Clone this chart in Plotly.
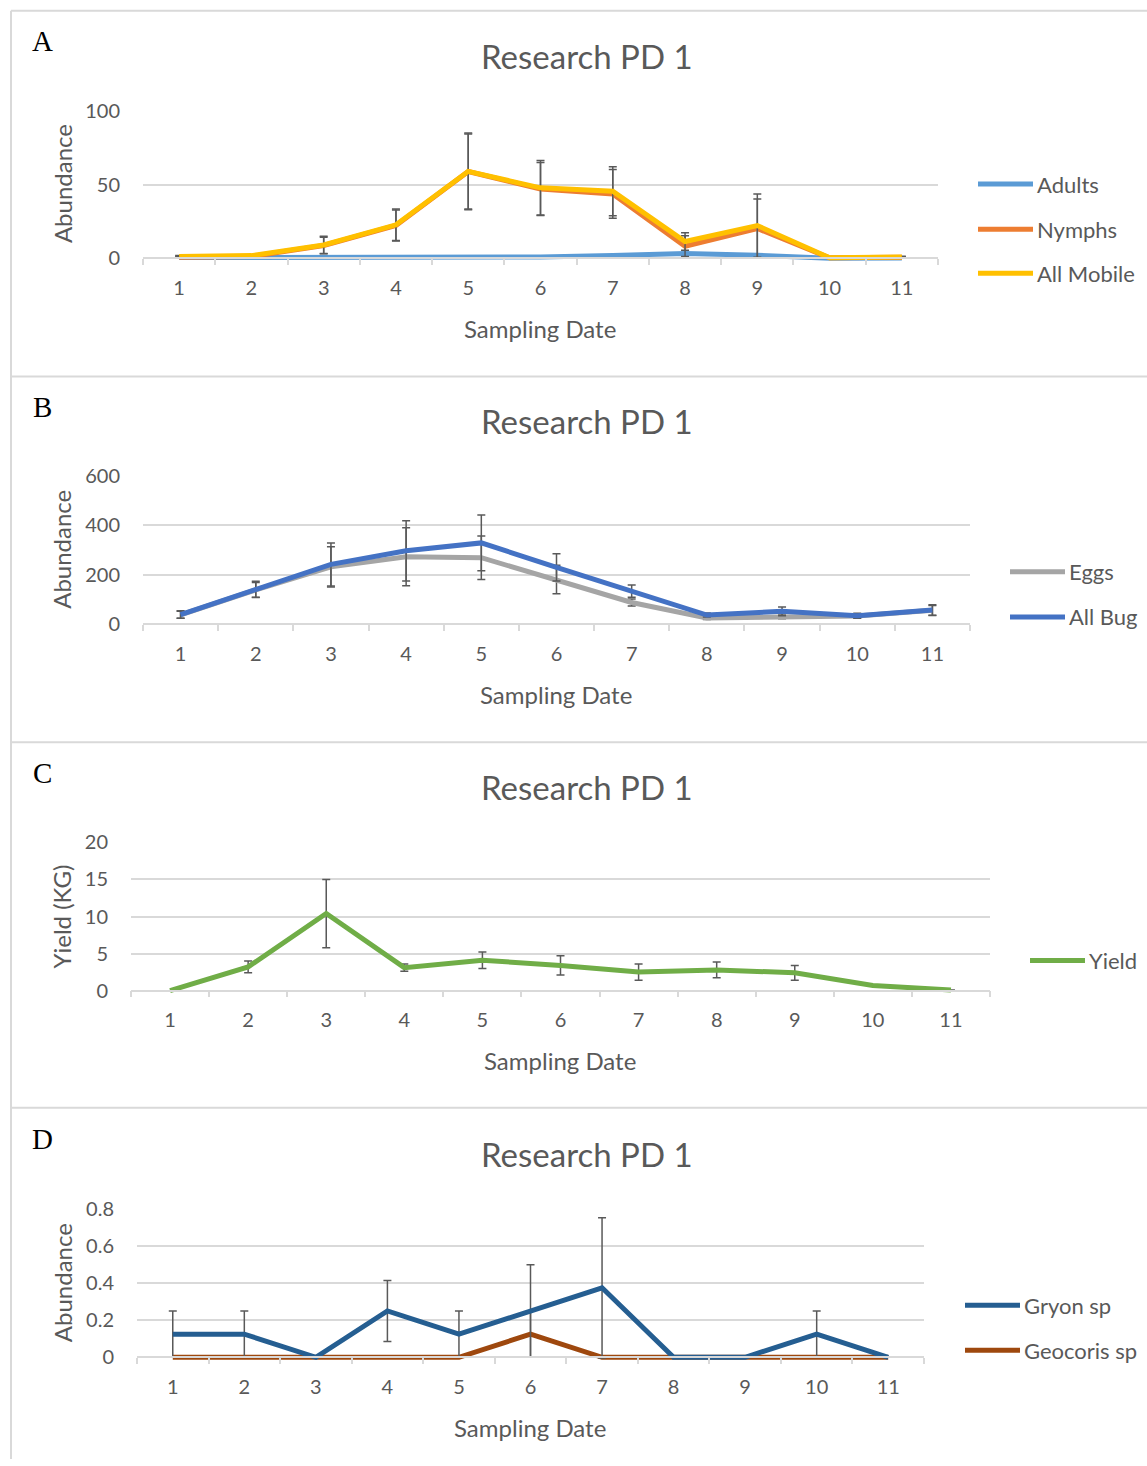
import plotly.graph_objects as go

W, H = 1147, 1466

# ---------------- data ----------------
dates = [1, 2, 3, 4, 5, 6, 7, 8, 9, 10, 11]

# Panel A
adults = [0.5, 0.6, 0.3, 0.4, 0.1, 0.8, 1.8, 3.2, 2.0, 0.0, 0.2]
nymphs = [0.7, 1.2, 8.7, 22.3, 58.9, 47.0, 43.7, 8.2, 20.2, 0.3, 0.6]
nymphs_err = [0.5, 0.5, 5.5, 10.5, 25.5, 18.0, 16.5, 7.0, 20.0, 0.3, 0.5]
all_mobile = [1.2, 1.8, 9.0, 22.7, 59.0, 47.8, 45.5, 11.4, 22.2, 0.3, 0.8]
all_mobile_err = [0.6, 0.6, 6.0, 10.7, 26.0, 18.5, 16.7, 6.0, 21.5, 0.3, 0.6]

# Panel B
eggs = [37, 138, 231, 272, 268, 180, 87, 24, 29, 32, 55]
eggs_err = [14, 30, 81, 117, 88, 58, 14, 6, 8, 8, 20]
all_bug = [38, 140, 241, 296, 328, 229, 133, 36, 51, 33, 56]
all_bug_err = [15, 33, 87, 122, 113, 55, 25, 8, 18, 10, 22]

# Panel C
yield_kg = [0.0, 3.2, 10.4, 3.1, 4.1, 3.4, 2.5, 2.8, 2.4, 0.7, 0.1]
yield_err = [0.0, 0.8, 4.6, 0.5, 1.1, 1.3, 1.1, 1.05, 1.0, 0.0, 0.0]

# Panel D
gryon = [0.125, 0.125, 0.0, 0.25, 0.125, 0.25, 0.375, 0.0, 0.0, 0.125, 0.0]
gryon_err = [0.125, 0.125, 0.0, 0.165, 0.125, 0.25, 0.378, 0.0, 0.0, 0.125, 0.0]
geocoris = [0, 0, 0, 0, 0, 0.125, 0, 0, 0, 0, 0]
geocoris_err = [0, 0, 0, 0, 0, 0.125, 0, 0, 0, 0, 0]

panel_title = "Research PD 1"
x_title = "Sampling Date"

# ---------------- styling ----------------
GRAY = "#595959"
GRID = "#d9d9d9"
FONT = "Lato"

# vertical calibration of the page photograph (measured)
SY, OY = 0.9845, 14.2


def py(y):
    """pixel row (from top) -> paper coordinate"""
    return 1 - ((y - OY) / SY) / H


def px(x):
    return x / W


fig = go.Figure()


def err(arr):
    return dict(type="data", array=arr, visible=True, color=GRAY, thickness=1.5, width=4)


def add(xa, ya, y, color, e=None, name=""):
    fig.add_trace(go.Scatter(
        x=dates, y=y, mode="lines", name=name,
        line=dict(color=color, width=5),
        error_y=err(e) if e is not None else None,
        xaxis=xa, yaxis=ya, showlegend=False))


# Panel A
add("x", "y", adults, "#5B9BD5", name="Adults")
add("x", "y", nymphs, "#ED7D31", nymphs_err, "Nymphs")
add("x", "y", all_mobile, "#FFC000", all_mobile_err, "All Mobile")
# Panel B
add("x2", "y2", eggs, "#A5A5A5", eggs_err, "Eggs")
add("x2", "y2", all_bug, "#4472C4", all_bug_err, "All Bug")
# Panel C
add("x3", "y3", yield_kg, "#70AD47", yield_err, "Yield")
# Panel D
add("x4", "y4", geocoris, "#9E480E", geocoris_err, "Geocoris sp")
add("x4", "y4", gryon, "#255E91", gryon_err, "Gryon sp")

# plot area pixel boxes: (x0, x1, ytop, ybottom, ymax, dtick)
boxes = [
    (143, 938, 112, 259, 100, 50),
    (143, 970, 476, 624, 600, 200),
    (131, 990, 842, 990, 20, 5),
    (137, 924, 1208, 1356, 0.8, 0.2),
]
PAD = 4  # px of room below zero so lines at zero are not clipped

layout = {}
for i, (x0, x1, yt, yb, ymax, dt) in enumerate(boxes):
    sfx = "" if i == 0 else str(i + 1)
    ext = ymax * PAD / (yb - yt)
    layout["xaxis" + sfx] = dict(
        domain=[px(x0), px(x1)], range=[0.5, 11.5], anchor="free", position=py(yb),
        tick0=1, dtick=1, ticks="outside", ticklen=12, tickcolor="rgba(0,0,0,0)",
        minor=dict(tick0=0.5, dtick=1, ticks="outside", ticklen=6, tickcolor=GRID,
                   tickwidth=1.5, showgrid=False),
        showgrid=False, zeroline=False, showline=True, linecolor=GRID, linewidth=1.5,
        tickfont=dict(family=FONT, size=20, color=GRAY), fixedrange=True)
    layout["yaxis" + sfx] = dict(
        domain=[py(yb + PAD), py(yt)], range=[-ext, ymax], anchor="x" + sfx,
        tick0=0, dtick=dt, ticks="outside", ticklen=18, tickcolor="rgba(0,0,0,0)",
        showgrid=True, gridcolor=GRID, gridwidth=1.5, zeroline=False, showline=False,
        tickfont=dict(family=FONT, size=20, color=GRAY), fixedrange=True)

shapes = []
line_style = dict(color=GRID, width=2)
for yy in [12, 377, 742, 1107]:
    shapes.append(dict(type="line", xref="paper", yref="paper",
                       x0=px(11), x1=1.0, y0=py(yy), y1=py(yy), line=line_style))
shapes.append(dict(type="line", xref="paper", yref="paper",
                   x0=px(11), x1=px(11), y0=py(12), y1=0, line=line_style))

annotations = []


def ann(text, x, y, size, color=GRAY, family=FONT, angle=0, xanchor="center"):
    annotations.append(dict(text=text, x=px(x), y=py(y), xref="paper", yref="paper",
                            showarrow=False, font=dict(family=family, size=size, color=color),
                            textangle=angle, xanchor=xanchor, yanchor="middle"))


letters = ["A", "B", "C", "D"]
letter_y = [42, 407, 773, 1138]
title_y = [57, 421, 787, 1153]
xt_y = [329, 694, 1060, 1426]
xt_x = [540, 556, 560, 530]
yt_text = ["Abundance", "Abundance", "Yield (KG)", "Abundance"]
yt_y = [185, 550, 916, 1282]
for i in range(4):
    ann(letters[i], 42, letter_y[i], 29, color="black", family="Liberation Serif")
    ann(panel_title, 587, title_y[i], 33)
    ann(x_title, xt_x[i], xt_y[i], 24)
    ann(yt_text[i], 62, yt_y[i], 24, angle=-90)

# legends (manual)
legends = [
    (978, 1033, [("Adults", "#5B9BD5", 185), ("Nymphs", "#ED7D31", 230), ("All Mobile", "#FFC000", 274)]),
    (1010, 1065, [("Eggs", "#A5A5A5", 572), ("All Bug", "#4472C4", 617)]),
    (1030, 1085, [("Yield", "#70AD47", 960)]),
    (965, 1020, [("Gryon sp", "#255E91", 1304), ("Geocoris sp", "#9E480E", 1349)]),
]
for lx0, lx1, items in legends:
    for name, col, yy in items:
        shapes.append(dict(type="line", xref="paper", yref="paper",
                           x0=px(lx0), x1=px(lx1), y0=py(yy), y1=py(yy),
                           line=dict(color=col, width=5)))
        ann(name, lx1 + 2, yy, 22, xanchor="left")

fig.update_layout(
    width=W, height=H, margin=dict(l=0, r=0, t=0, b=0),
    paper_bgcolor="white", plot_bgcolor="white",
    shapes=shapes, annotations=annotations, showlegend=False,
    **layout)

fig.write_html("out.html")
